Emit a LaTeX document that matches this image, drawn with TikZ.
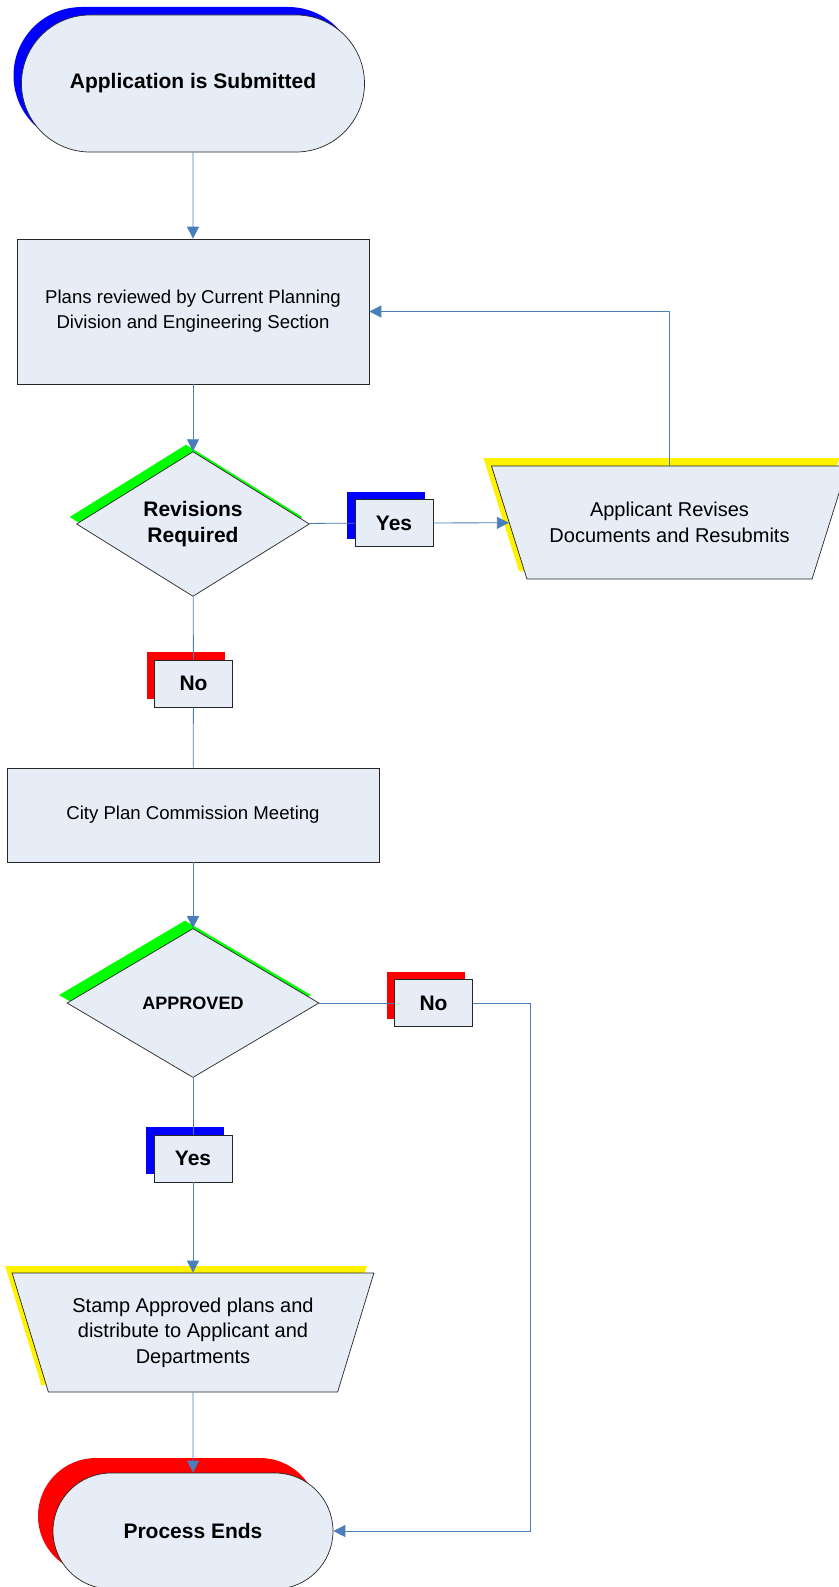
\documentclass[tikz,border=0pt]{standalone}
\usepackage{fontspec}
\setmainfont{Liberation Sans}
\usetikzlibrary{shapes.geometric,shapes.misc,shadows,arrows.meta}

\definecolor{boxfill}{RGB}{231,237,247}
\definecolor{linkblue}{RGB}{74,126,187}

\begin{document}
\begin{tikzpicture}[x=1pt,y=-1pt,
  every node/.style={draw=black!85, line width=0.7pt, fill=boxfill, align=center, inner sep=0pt},
  terminal/.style={rounded rectangle, font=\fontsize{21}{25}\selectfont\bfseries},
  procbox/.style={rectangle, font=\fontsize{18.6}{25}\selectfont},
  decision/.style={diamond, font=\fontsize{21}{26}\selectfont\bfseries},
  manual/.style={trapezium, trapezium stretches=true, shape border rotate=180, font=\fontsize{20}{25.5}\selectfont},
  tag/.style={rectangle, minimum width=78pt, minimum height=47pt, font=\fontsize{21}{25}\selectfont\bfseries},
  shade/.style 2 args={general shadow={fill=#1, draw=none, shadow xshift=-#2, shadow yshift=#2}},
  link/.style={draw=linkblue, line width=0.8pt},
  arr/.style={link, -{Triangle[length=12pt,width=12pt]}}
]

\useasboundingbox (0,0) rectangle (838,1587);

% Start
\node[terminal, shade={blue}{8pt}, minimum width=343pt, minimum height=137pt] (start) at (193,83.5) {Application is Submitted};

% Review and revisions
\node[procbox, minimum width=352pt, minimum height=145pt] (review) at (193,311.5) {Plans reviewed by Current Planning\\Division and Engineering Section};
\node[decision, shade={green}{7pt}, minimum width=233pt, minimum height=137pt] (revq) at (193,524) {Revisions\\Required};
\node[tag, shade={blue}{8pt}] (yesa) at (394,523) {Yes};
\node[manual, shade={yellow}{8pt}, trapezium left angle=53.4, trapezium right angle=53.4, minimum width=357pt, minimum height=113pt] (applicant) at (669.5,522.5) {Applicant Revises\\Documents and Resubmits};
\node[tag, shade={red}{8pt}] (noa) at (193.5,683.5) {No};

% Commission
\node[procbox, minimum width=372pt, minimum height=94pt] (meeting) at (193,815) {City Plan Commission Meeting};
\node[decision, shade={green}{8pt}, minimum width=252pt, minimum height=149pt, font=\fontsize{18}{22}\selectfont\bfseries] (approved) at (193,1003) {APPROVED};
\node[tag, shade={red}{8pt}] (nob) at (433.5,1003) {No};
\node[tag, shade={blue}{8pt}] (yesb) at (193,1158.5) {Yes};
\node[manual, shade={yellow}{7pt}, trapezium left angle=66.5, trapezium right angle=66.5, minimum width=362pt, minimum height=119pt] (stamp) at (193,1332.5) {Stamp Approved plans and\\distribute to Applicant and\\Departments};

% End
\node[terminal, shade={red}{15pt}, minimum width=280pt, minimum height=116pt] (finish) at (193,1531) {Process Ends};

% Connectors
\coordinate (turn) at (530,1003);
\draw[arr] (start) -- (review);
\draw[arr] (review) -- (revq);
\draw[link] (revq) -- (yesa);
\draw[arr] (yesa) -- (applicant);
\draw[arr] (applicant) |- (review);
\draw[link] (revq) -- (noa);
\draw[link] (noa) -- (meeting);
\draw[arr] (meeting) -- (approved);
\draw[link] (approved) -- (nob);
\draw[arr] (nob) -- (turn) |- (finish);
\draw[link] (approved) -- (yesb);
\draw[arr] (yesb) -- (stamp);
\draw[arr] (stamp) -- (finish);

\end{tikzpicture}
\end{document}
